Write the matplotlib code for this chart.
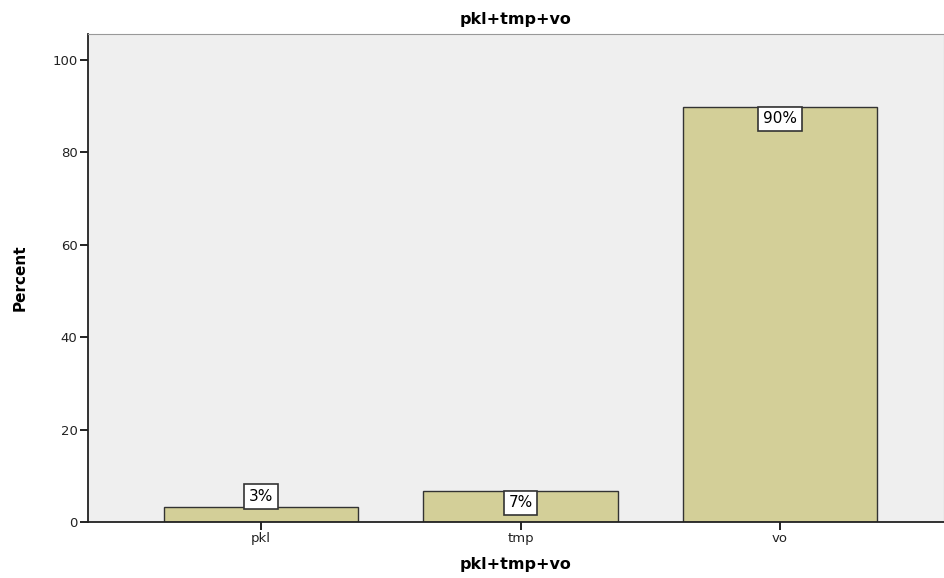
import matplotlib
matplotlib.use("Agg")
import matplotlib.pyplot as plt

categories = ["pkl", "tmp", "vo"]
percents = [3.3, 6.8, 89.9]
labels = ["3%", "7%", "90%"]
# where each value label sits: above the bar or just inside its top
label_inside = [False, True, True]

bar_color = "#d3cf98"
bg_color = "#efefef"

fig = plt.figure(figsize=(9.44, 5.78), dpi=100)
ax = fig.add_axes([88 / 944, 1 - 522 / 578, (944 - 88) / 944, (522 - 34) / 578])
ax.set_facecolor(bg_color)

x = range(len(categories))
ax.bar(x, percents, width=0.75, color=bar_color, edgecolor="#333333", linewidth=1.0, zorder=2)

# offsets chosen so the label box sits flush on (or just under) the bar top
box = dict(boxstyle="square,pad=0.3", facecolor="white", edgecolor="#333333", linewidth=1.2)
for xi, val, lab, inside in zip(x, percents, labels, label_inside):
    if inside:
        ax.annotate(lab, (xi, val), xytext=(0, -3.3), textcoords="offset points",
                    ha="center", va="top", fontsize=11, bbox=box, zorder=3)
    else:
        ax.annotate(lab, (xi, val), xytext=(0, 2.0), textcoords="offset points",
                    ha="center", va="bottom", fontsize=11, bbox=box, zorder=3)

ax.set_xlim(-0.667, 2.632)
ax.set_ylim(0, 105.6)
ax.set_yticks([0, 20, 40, 60, 80, 100])
ax.set_xticks(list(x))
ax.set_xticklabels(categories)
ax.tick_params(axis="both", direction="out", length=6, width=1.4, pad=1.5,
               labelsize=9.5, colors="#222222")

for side in ["top", "right"]:
    ax.spines[side].set_color("#999999")
for side in ["left", "bottom"]:
    ax.spines[side].set_color("#222222")
    ax.spines[side].set_linewidth(1.3)

ax.set_title("pkl+tmp+vo", fontsize=11.5, fontweight="bold", pad=7)
ax.set_xlabel("pkl+tmp+vo", fontsize=11.5, fontweight="bold", labelpad=8)
ax.set_ylabel("Percent", fontsize=11, fontweight="bold", labelpad=18)

fig.savefig("out.png", dpi=100)
